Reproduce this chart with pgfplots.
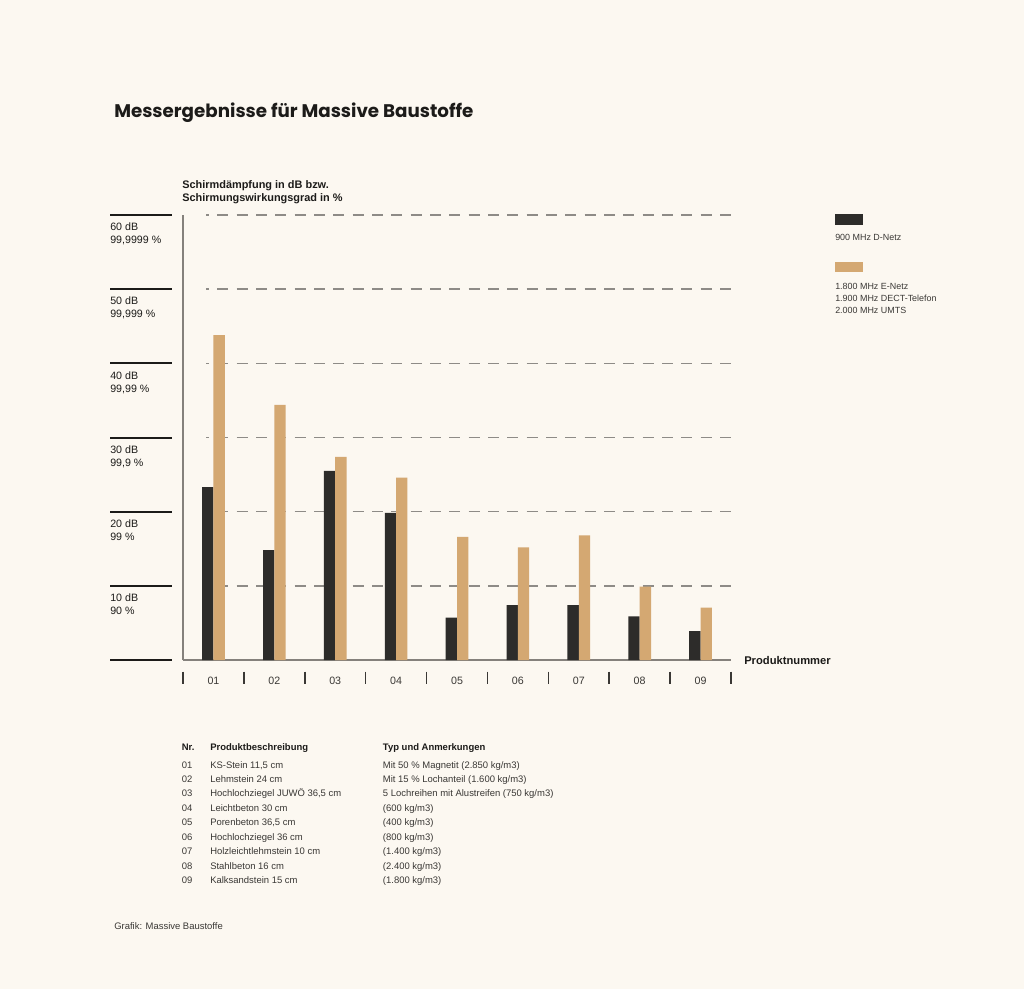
\documentclass[border=0pt]{standalone}
\usepackage{fontspec}
\setmainfont{Liberation Sans}
\newfontfamily\titlefont{Poppins}
\usepackage{pgfplots}
\usepackage{pgfplotstable}
\pgfplotsset{compat=1.18}

\definecolor{bg}{HTML}{FCF8F1}
\definecolor{darkbar}{HTML}{2D2C2A}
\definecolor{tanbar}{HTML}{D4A872}
\definecolor{gridgray}{HTML}{8E8B87}
\definecolor{axisgray}{HTML}{85817C}
\definecolor{ink}{HTML}{1C1B19}
\definecolor{txt}{HTML}{3A3835}

% Schirmdaempfung in dB, Produkt 01..09
\pgfplotstableread{
x   dnetz  enetz
0.5 23.3   43.8
1.5 14.8   34.4
2.5 25.5   27.4
3.5 19.85  24.6
4.5 5.7    16.6
5.5 7.4    15.2
6.5 7.4    16.8
7.5 5.9    9.9
8.5 3.9    7.05
}\messdaten

\begin{document}
\begin{tikzpicture}
\begin{scope}[x=0.75pt,y=-0.75pt]
\path[use as bounding box, fill=bg] (0,0) rectangle (1024,989);
\end{scope}

\begin{axis}[
    at={(137.25pt,-495pt)}, anchor=origin,
    scale only axis, width=411pt, height=333.75pt,
    xmin=0, xmax=9, ymin=0, ymax=60,
    ybar=0pt, bar width=8.5pt,
    axis lines=left,
    axis line style={draw=axisgray, line width=0.9pt, -},
    major tick length=0pt,
    xtick={0.5,1.5,2.5,3.5,4.5,5.5,6.5,7.5,8.5},
    xticklabels={01,02,03,04,05,06,07,08,09},
    xticklabel style={anchor=base, yshift=-18pt, inner sep=0pt, text=txt,
        font=\fontsize{8}{9.6}\selectfont},
    ytick={10,20,30,40,50,60},
    yticklabels={{10 dB\\90 \%},{20 dB\\99 \%},{30 dB\\99,9 \%},
        {40 dB\\99,99 \%},{50 dB\\99,999 \%},{60 dB\\99,9999 \%}},
    yticklabel style={anchor=north west, align=left, inner sep=0pt,
        xshift=-54.75pt, yshift=-5.8pt, text=ink,
        font=\fontsize{8}{9.75}\selectfont},
    clip=false,
]
\pgfplotsinvokeforeach{10,20,30,40,50,60}{
  \draw[gridgray, line width=1.1pt, dash pattern=on 8.3pt off 6.2pt, dash phase=6pt]
    (axis cs:0.378,#1) -- (axis cs:9,#1);
}
\pgfplotsinvokeforeach{0,10,20,30,40,50,60}{
  \draw[ink, line width=1.5pt] ([xshift=-54.75pt]axis cs:0,#1) -- ([xshift=-8.25pt]axis cs:0,#1);
}
\pgfplotsinvokeforeach{0,1,2,3,4,5,6,7,8,9}{
  \draw[txt, line width=1.2pt] ([yshift=-8.75pt]axis cs:#1,0) -- ([yshift=-18pt]axis cs:#1,0);
}
\addplot[fill=darkbar, draw=none] table[x=x, y=dnetz] {\messdaten};
\addplot[fill=tanbar, draw=none] table[x=x, y=enetz] {\messdaten};
\end{axis}

\begin{scope}[x=0.75pt,y=-0.75pt, every node/.style={inner sep=0pt, anchor=base west}]
\node[font=\titlefont\bfseries\fontsize{13.7}{16}\selectfont, text=ink] at (114,117) {Messergebnisse für Massive Baustoffe};
\node[font=\bfseries\fontsize{8.2}{10}\selectfont, text=ink] at (182,188.5) {Schirmdämpfung in dB bzw.};
\node[font=\bfseries\fontsize{8.2}{10}\selectfont, text=ink] at (182,201) {Schirmungswirkungsgrad in \%};
\node[font=\bfseries\fontsize{8.4}{10}\selectfont, text=ink] at (744,664) {Produktnummer};
% Legende
\fill[darkbar] (835,214) rectangle (862.5,225);
\node[font=\fontsize{6.7}{8}\selectfont, text=txt] at (835,240) {900 MHz D-Netz};
\fill[tanbar] (835,261.5) rectangle (862.5,272);
\node[font=\fontsize{6.7}{8}\selectfont, text=txt] at (835,289) {1.800 MHz E-Netz};
\node[font=\fontsize{6.7}{8}\selectfont, text=txt] at (835,301) {1.900 MHz DECT-Telefon};
\node[font=\fontsize{6.7}{8}\selectfont, text=txt] at (835,313) {2.000 MHz UMTS};
% Tabelle
\begin{scope}[every node/.append style={font=\fontsize{7.1}{8.5}\selectfont, text=txt}]
\node[font=\bfseries\fontsize{7.1}{8.5}\selectfont, text=ink] at (181.5,750) {Nr.};
\node[font=\bfseries\fontsize{7.1}{8.5}\selectfont, text=ink] at (210,750) {Produktbeschreibung};
\node[font=\bfseries\fontsize{7.1}{8.5}\selectfont, text=ink] at (382.7,750) {Typ und Anmerkungen};
\node at (181.5,768) {01}; \node at (210,768) {KS-Stein 11,5 cm}; \node at (382.7,768) {Mit 50 \% Magnetit (2.850 kg/m3)};
\node at (181.5,782.45) {02}; \node at (210,782.45) {Lehmstein 24 cm}; \node at (382.7,782.45) {Mit 15 \% Lochanteil (1.600 kg/m3)};
\node at (181.5,796.9) {03}; \node at (210,796.9) {Hochlochziegel JUWÖ 36,5 cm}; \node at (382.7,796.9) {5 Lochreihen mit Alustreifen (750 kg/m3)};
\node at (181.5,811.35) {04}; \node at (210,811.35) {Leichtbeton 30 cm}; \node at (382.7,811.35) {(600 kg/m3)};
\node at (181.5,825.8) {05}; \node at (210,825.8) {Porenbeton 36,5 cm}; \node at (382.7,825.8) {(400 kg/m3)};
\node at (181.5,840.25) {06}; \node at (210,840.25) {Hochlochziegel 36 cm}; \node at (382.7,840.25) {(800 kg/m3)};
\node at (181.5,854.7) {07}; \node at (210,854.7) {Holzleichtlehmstein 10 cm}; \node at (382.7,854.7) {(1.400 kg/m3)};
\node at (181.5,869.15) {08}; \node at (210,869.15) {Stahlbeton 16 cm}; \node at (382.7,869.15) {(2.400 kg/m3)};
\node at (181.5,883.6) {09}; \node at (210,883.6) {Kalksandstein 15 cm}; \node at (382.7,883.6) {(1.800 kg/m3)};
\node at (114,929) {Grafik: Massive Baustoffe};
\end{scope}
\end{scope}
\end{tikzpicture}
\end{document}
